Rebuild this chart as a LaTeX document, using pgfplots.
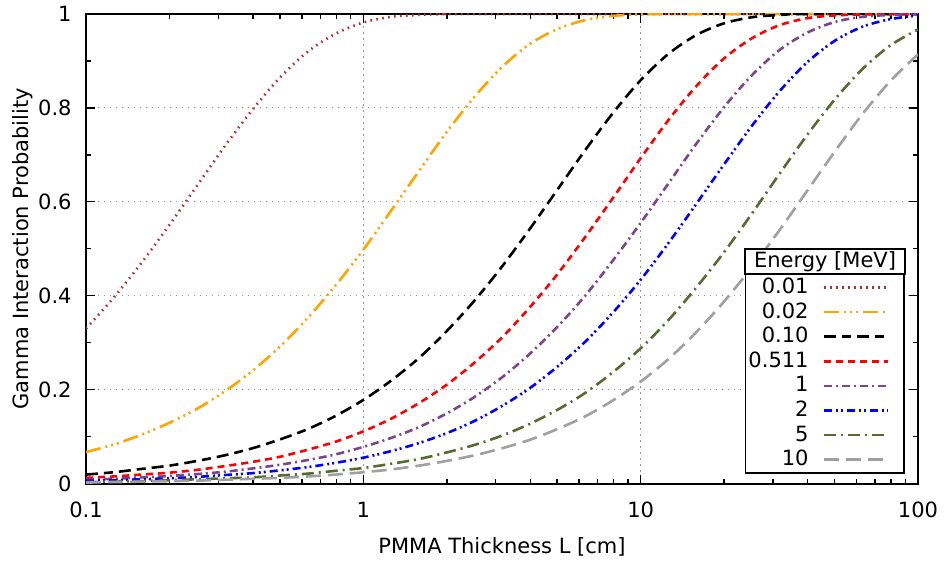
\documentclass[border=0pt]{standalone}
\usepackage{fontspec}
\setmainfont{DejaVu Sans}
\usepackage{pgfplots}
\pgfplotsset{compat=1.18}
\definecolor{cA}{RGB}{178,48,48}
\definecolor{cB}{RGB}{255,165,0}
\definecolor{cD}{RGB}{255,0,0}
\definecolor{cE}{RGB}{125,70,140}
\definecolor{cF}{RGB}{0,0,255}
\definecolor{cG}{RGB}{85,107,47}
\definecolor{cH}{RGB}{160,160,160}
\begin{document}
\fontsize{10.5bp}{12.6bp}\selectfont
\begin{tikzpicture}
\begin{axis}[
  at={(0,0)}, anchor=south west,
  scale only axis, width=416bp, height=234.75bp,
  xmode=log, xmin=0.1, xmax=100, ymin=0, ymax=1,
  xtick={0.1,1,10,100}, xticklabels={0.1,1,10,100},
  ytick={0,0.2,0.4,0.6,0.8,1}, yticklabels={0,0.2,0.4,0.6,0.8,1},
  minor y tick num=1,
  tick align=inside, tick pos=both,
  major tick length=4.5bp, minor tick length=2.5bp,
  tick style={black, line width=0.7bp},
  axis line style={line width=1bp},
  grid=major,
  major grid style={black!40, line width=0.6bp, dash pattern=on 0.6bp off 2.4bp},
  xticklabel style={yshift=-5.5bp},
  yticklabel style={xshift=-3.5bp},
  xlabel={PMMA Thickness L [cm]},
  ylabel={Gamma Interaction Probability},
  xlabel style={at={(axis description cs:0.5,-0.1346)}, anchor=center},
  ylabel style={at={(axis description cs:-0.0763,0.5)}, anchor=center},
  legend cell align=right,
  legend plot pos=right,
  legend style={at={(axis description cs:0.98438,0.02023)}, anchor=south east,
    draw=black, line width=0.8bp, fill=white, inner xsep=0pt, inner ysep=0.6bp,
    row sep=0pt, column sep=7bp,
    nodes={inner sep=0pt, minimum height=12.3bp}},
  legend image code/.code={\draw[#1] (0bp,0bp) -- (32bp,0bp); \path (39.5bp,0bp);},
  every axis plot/.append style={line width=1.3bp, smooth, tension=0.5},
]
\addplot[cA, dash pattern=on 0.8bp off 2.2bp] coordinates {
(0.1,0.330) (0.1259,0.396) (0.1585,0.470) (0.1995,0.550) (0.2512,0.634) (0.3162,0.718) (0.3981,0.796) (0.5012,0.865) (0.631,0.920) (0.7943,0.958) (1,0.982) (1.259,0.994) (1.585,0.998) (1.995,1.000) (2.512,1) (100,1)};
\addlegendentry{\makebox[31.5bp][r]{0.01}}
\addplot[cB, dash pattern=on 7.5bp off 2.5bp on 1bp off 2bp on 1bp off 2bp on 1bp off 2.5bp] coordinates {
(0.1,0.067) (0.1259,0.083) (0.1585,0.104) (0.1995,0.129) (0.2512,0.159) (0.3162,0.196) (0.3981,0.240) (0.5012,0.292) (0.631,0.353) (0.7943,0.422) (1,0.498) (1.259,0.581) (1.585,0.665) (1.995,0.748) (2.512,0.823) (3.162,0.887) (3.981,0.936) (5.012,0.968) (6.31,0.987) (7.943,0.996) (10,0.999) (12.59,1) (100,1)};
\addlegendentry{\makebox[31.5bp][r]{0.02}}
\addplot[black, dash pattern=on 6bp off 3bp on 4.5bp off 3bp] coordinates {
(0.1,0.019) (0.1259,0.024) (0.1585,0.031) (0.1995,0.038) (0.2512,0.048) (0.3162,0.060) (0.3981,0.075) (0.5012,0.094) (0.631,0.116) (0.7943,0.144) (1,0.178) (1.259,0.219) (1.585,0.267) (1.995,0.324) (2.512,0.389) (3.162,0.462) (3.981,0.542) (5.012,0.626) (6.31,0.710) (7.943,0.789) (10,0.859) (12.59,0.915) (15.85,0.955) (19.95,0.980) (25.12,0.993) (31.62,0.998) (39.81,1.000) (100,1)};
\addlegendentry{\makebox[31.5bp][r]{0.10}}
\addplot[cD, dash pattern=on 3.5bp off 2.5bp] coordinates {
(0.1,0.012) (0.1259,0.015) (0.1585,0.019) (0.1995,0.023) (0.2512,0.029) (0.3162,0.037) (0.3981,0.046) (0.5012,0.057) (0.631,0.072) (0.7943,0.089) (1,0.111) (1.259,0.138) (1.585,0.171) (1.995,0.210) (2.512,0.257) (3.162,0.311) (3.981,0.375) (5.012,0.446) (6.31,0.525) (7.943,0.608) (10,0.693) (12.59,0.774) (15.85,0.846) (19.95,0.905) (25.12,0.948) (31.62,0.976) (39.81,0.991) (50.12,0.997) (63.1,0.999) (79.43,1.000) (100,1)};
\addlegendentry{\makebox[31.5bp][r]{0.511}}
\addplot[cE, dash pattern=on 4bp off 2bp on 1bp off 2bp] coordinates {
(0.1,0.008) (0.1259,0.010) (0.1585,0.013) (0.1995,0.016) (0.2512,0.020) (0.3162,0.025) (0.3981,0.032) (0.5012,0.040) (0.631,0.050) (0.7943,0.062) (1,0.078) (1.259,0.097) (1.585,0.120) (1.995,0.149) (2.512,0.184) (3.162,0.226) (3.981,0.276) (5.012,0.334) (6.31,0.400) (7.943,0.475) (10,0.555) (12.59,0.639) (15.85,0.723) (19.95,0.801) (25.12,0.869) (31.62,0.923) (39.81,0.960) (50.12,0.983) (63.1,0.994) (79.43,0.998) (100,1.000)};
\addlegendentry{\makebox[31.5bp][r]{1}}
\addplot[cF, dash pattern=on 4bp off 2bp on 1bp off 1.5bp on 1bp off 2bp] coordinates {
(0.1,0.006) (0.1259,0.007) (0.1585,0.009) (0.1995,0.011) (0.2512,0.014) (0.3162,0.018) (0.3981,0.022) (0.5012,0.028) (0.631,0.035) (0.7943,0.044) (1,0.055) (1.259,0.069) (1.585,0.086) (1.995,0.107) (2.512,0.133) (3.162,0.165) (3.981,0.203) (5.012,0.249) (6.31,0.302) (7.943,0.364) (10,0.434) (12.59,0.512) (15.85,0.595) (19.95,0.679) (25.12,0.761) (31.62,0.835) (39.81,0.897) (50.12,0.943) (63.1,0.973) (79.43,0.989) (100,0.997)};
\addlegendentry{\makebox[31.5bp][r]{2}}
\addplot[cG, dash pattern=on 6bp off 2.5bp on 1bp off 2.5bp] coordinates {
(0.1,0.003) (0.1259,0.004) (0.1585,0.005) (0.1995,0.007) (0.2512,0.009) (0.3162,0.011) (0.3981,0.013) (0.5012,0.017) (0.631,0.021) (0.7943,0.027) (1,0.033) (1.259,0.042) (1.585,0.052) (1.995,0.066) (2.512,0.082) (3.162,0.102) (3.981,0.127) (5.012,0.157) (6.31,0.193) (7.943,0.237) (10,0.288) (12.59,0.348) (15.85,0.417) (19.95,0.492) (25.12,0.574) (31.62,0.659) (39.81,0.742) (50.12,0.818) (63.1,0.883) (79.43,0.933) (100,0.967)};
\addlegendentry{\makebox[31.5bp][r]{5}}
\addplot[cH, dash pattern=on 7.5bp off 3.5bp] coordinates {
(0.1,0.002) (0.1259,0.003) (0.1585,0.004) (0.1995,0.005) (0.2512,0.006) (0.3162,0.008) (0.3981,0.010) (0.5012,0.012) (0.631,0.015) (0.7943,0.019) (1,0.024) (1.259,0.030) (1.585,0.038) (1.995,0.048) (2.512,0.060) (3.162,0.075) (3.981,0.093) (5.012,0.116) (6.31,0.143) (7.943,0.177) (10,0.217) (12.59,0.265) (15.85,0.322) (19.95,0.387) (25.12,0.460) (31.62,0.539) (39.81,0.623) (50.12,0.707) (63.1,0.787) (79.43,0.857) (100,0.914)};
\addlegendentry{\makebox[31.5bp][r]{10}}
\node[draw=black, line width=0.8bp, fill=white, minimum width=80bp, minimum height=12.5bp, inner sep=0pt, anchor=south] at (axis description cs:0.88822,0.4441) {Energy [MeV]};
\end{axis}
\pgfresetboundingbox
\path (-43bp,-39.25bp) rectangle (429bp,241.75bp);
\end{tikzpicture}
\end{document}
